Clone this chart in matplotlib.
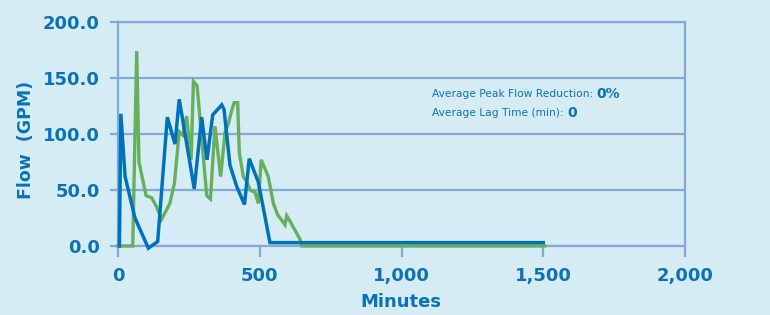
import matplotlib
matplotlib.use("Agg")
import matplotlib.pyplot as plt
from matplotlib.ticker import FuncFormatter

# ---- data ----
green_min = [0, 52, 66, 74, 99, 119, 136, 154, 183, 199, 216, 228, 242, 258, 266, 279,
             313, 326, 342, 362, 378, 389, 401, 410, 422, 428, 442, 455, 466, 483, 495,
             505, 530, 548, 563, 589, 595, 607, 642, 648, 1505]
green_val = [0, 0, 174, 75, 45, 43, 35, 24, 38, 56, 102, 99, 116, 77, 147, 143,
             45, 42, 107, 62, 102, 109, 121, 128, 128, 83, 62, 57, 50, 48, 38,
             77, 62, 38, 28, 19, 27, 22, 6, 0, 0]

blue_min = [5, 10, 25, 60, 107, 140, 174, 201, 216, 269, 295, 314, 334, 366, 374,
            395, 419, 446, 463, 495, 536, 1500]
blue_val = [0, 118, 62, 25, -2, 4, 115, 91, 131, 51, 115, 77, 117, 126, 122,
            72, 53, 37, 78, 57, 3, 3]

x_ticks = [0, 500, 1000, 1500, 2000]
y_ticks = [0, 50, 100, 150, 200]

summary_labels = ["Average Peak Flow Reduction: ", "Average Lag Time (min): "]
summary_values = ["0%", "0"]

# ---- style ----
BG = "#D5ECF5"
GRID = "#80AAD9"
TXT = "#0A72B8"
BLUE = "#0072BC"
GREEN = "#66AF5C"

fig = plt.figure(figsize=(7.7, 3.15), dpi=100, facecolor=BG)
ax = fig.add_axes([118 / 770, 1 - 246 / 315, (685 - 118) / 770, (246 - 22) / 315])
ax.set_facecolor(BG)

ax.plot(green_min, green_val, color=GREEN, lw=2.4, clip_on=False, solid_joinstyle="miter", zorder=3)
ax.plot(blue_min, blue_val, color=BLUE, lw=2.5, clip_on=False, solid_joinstyle="miter", zorder=4)

ax.set_xlim(0, 2000)
ax.set_ylim(0, 200)
ax.set_xticks(x_ticks)
ax.set_yticks(y_ticks)
ax.xaxis.set_major_formatter(FuncFormatter(lambda v, p: f"{int(v):,}"))
ax.yaxis.set_major_formatter(FuncFormatter(lambda v, p: f"{v:.1f}"))

ax.yaxis.grid(True, color=GRID, lw=1.6, zorder=1)
ax.set_axisbelow(True)
for s in ax.spines.values():
    s.set_color(GRID)
    s.set_linewidth(1.6)

ax.tick_params(axis="x", direction="out", length=8, width=1.6, color=GRID, pad=7,
               labelsize=13, labelcolor=TXT)
ax.tick_params(axis="y", direction="out", length=6, width=1.6, color=GRID, pad=7,
               labelsize=13, labelcolor=TXT)
for lab in ax.get_xticklabels() + ax.get_yticklabels():
    lab.set_fontweight("bold")

fig.text(401 / 770, 1 - 302 / 315, "Minutes", ha="center", va="center",
         fontsize=13, fontweight="bold", color=TXT)
fig.text(26 / 770, 1 - 140 / 315, "Flow  (GPM)", ha="center", va="center",
         rotation=90, fontsize=12.5, fontweight="bold", color=TXT)

ys = [94, 113]
for lbl, val, yy in zip(summary_labels, summary_values, ys):
    t = fig.text(432 / 770, 1 - yy / 315, lbl, ha="left", va="center",
                 fontsize=7.7, color=TXT, family=["Liberation Sans Narrow", "DejaVu Sans"])
    ax.annotate(val, xy=(1, 0.5), xycoords=t, ha="left", va="center",
                fontsize=10, fontweight="bold", color=TXT)

fig.savefig("out.png", dpi=100, facecolor=BG)
